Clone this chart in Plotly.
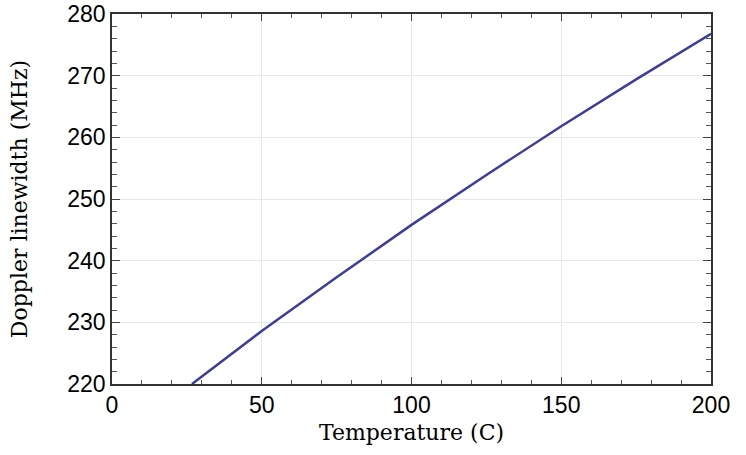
import plotly.graph_objects as go

temperature_c = [26.7, 50, 75, 100, 125, 150, 175, 200]
doppler_mhz = [220.0, 228.6, 237.3, 245.8, 253.9, 261.8, 269.4, 276.8]

x_ticks = [0, 50, 100, 150, 200]
y_ticks = [220, 230, 240, 250, 260, 270, 280]

fig = go.Figure()
fig.add_trace(go.Scatter(
    x=temperature_c, y=doppler_mhz, mode="lines",
    line=dict(color="#3d3d9b", width=2.5),
    showlegend=False,
))

axis_common = dict(
    showline=True, linecolor="#333333", linewidth=1.5, mirror="allticks",
    ticks="inside", tickcolor="#444444", tickwidth=1,
    showgrid=True, gridcolor="#e8e8e8", gridwidth=1,
    zeroline=False, automargin=False,
    tickfont=dict(family="Liberation Sans, Arial, sans-serif", size=23, color="black"),
)

title_font = dict(family="DejaVu Serif, Liberation Serif, serif", size=22, color="black")

fig.update_xaxes(
    **axis_common, range=[0, 200], tickvals=x_ticks, ticklen=7,
    minor=dict(ticks="inside", dtick=10, ticklen=4, tickcolor="#555555", showgrid=False),
    title=dict(text="Temperature (C)", font=title_font, standoff=7),
)
fig.update_yaxes(
    **axis_common, range=[220, 280], tickvals=y_ticks, ticklen=8,
    minor=dict(ticks="inside", dtick=2, ticklen=5, tickcolor="#555555", showgrid=False),
    title=dict(text="Doppler linewidth (MHz)", font=title_font, standoff=34),
)

fig.update_layout(
    width=746, height=455,
    margin=dict(l=112, r=35, t=14, b=71),
    plot_bgcolor="white", paper_bgcolor="white",
)

fig.write_html("out.html", config={"displayModeBar": False},
               post_script="document.body.style.margin='0';")
